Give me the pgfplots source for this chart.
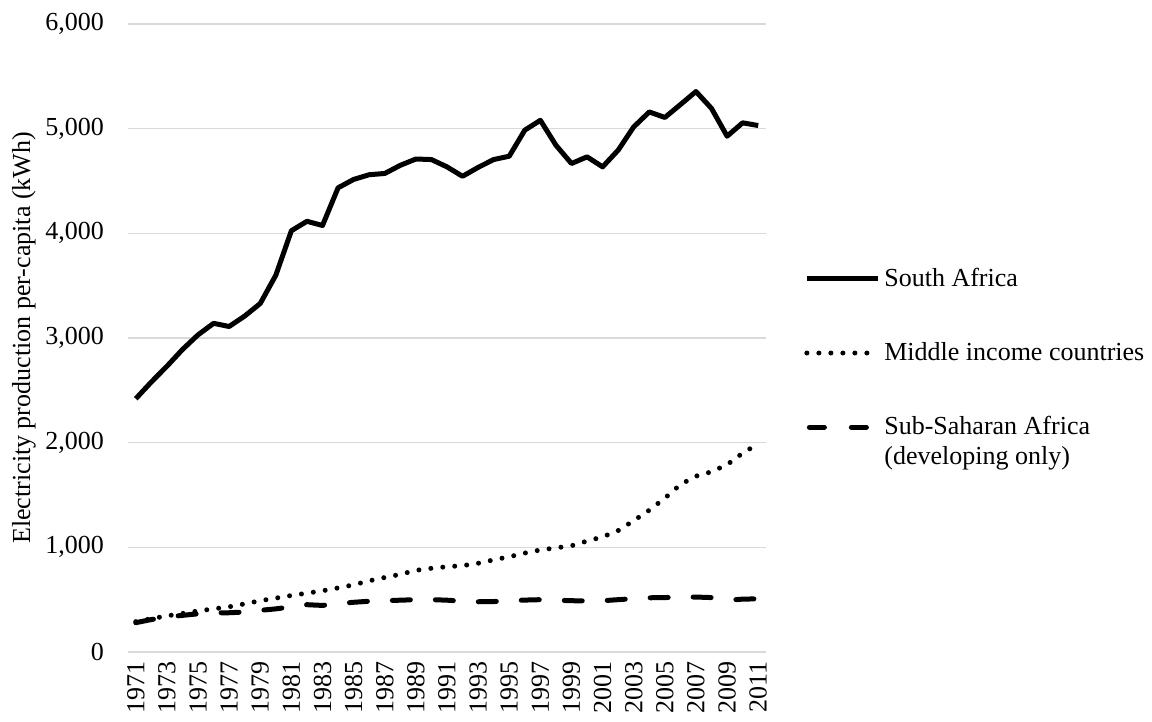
\documentclass[border=0pt]{standalone}
\usepackage{fontspec}
\setmainfont{Liberation Serif}
\usepackage{pgfplots}
\pgfplotsset{compat=1.18}

% electricity production per capita (kWh)
\pgfplotstableread{
year  sa    mic   ssa
1971  2420  290   280
1972  2580  318   310
1973  2730  345   335
1974  2890  368   350
1975  3030  392   365
1976  3140  412   375
1977  3110  432   375
1978  3210  460   382
1979  3330  490   398
1980  3600  515   412
1981  4025  540   432
1982  4115  562   452
1983  4075  585   445
1984  4435  612   462
1985  4515  642   475
1986  4560  680   485
1987  4572  712   490
1988  4650  742   495
1989  4710  780   500
1990  4705  800   500
1991  4635  815   495
1992  4545  825   485
1993  4630  848   480
1994  4705  880   482
1995  4737  910   490
1996  4986  945   496
1997  5080  975   500
1998  4842  995   495
1999  4667  1015  490
2000  4731  1060  488
2001  4635  1100  490
2002  4795  1160  500
2003  5017  1255  510
2004  5160  1355  518
2005  5107  1470  520
2006  5230  1600  525
2007  5355  1680  525
2008  5193  1722  520
2009  4928  1790  495
2010  5056  1900  505
2011  5030  1990  508
}\datatable

\pgfplotsset{
    ssaleg/.style={legend image code/.code={
        \draw[##1, dash pattern=on 7.5bp off 13.5bp] (1.25bp,7.5bp) -- (31bp,7.5bp);}},
}

\begin{document}
\fontsize{13bp}{15bp}\selectfont
\begin{tikzpicture}
\useasboundingbox (-64bp,-35bp) rectangle (512bp,326bp);
\begin{axis}[
    scale only axis,
    width=319bp, height=314bp,
    xmin=1970.5, xmax=2011.5,
    ymin=0, ymax=6000,
    xtick={1971,1973,...,2011},
    ytick={0,1000,...,6000},
    /pgf/number format/assume math mode=true,
    xticklabel style={rotate=90, anchor=east, font=\fontsize{13bp}{15bp}\selectfont,
        /pgf/number format/1000 sep={}},
    yticklabel style={font=\fontsize{13bp}{15bp}\selectfont,
        /pgf/number format/1000 sep={,}, xshift=-7.5bp},
    ymajorgrids,
    grid style={color=black!15, line width=0.75bp},
    axis line style={draw=none},
    major tick length=0pt,
    ylabel={Electricity production per-capita (kWh)},
    ylabel style={at={(rel axis cs:0,0.5)}, anchor=center, yshift=52bp,
        font=\fontsize{13bp}{15bp}\selectfont},
    legend style={at={(rel axis cs:1,0.5)}, anchor=west, xshift=16bp, yshift=-15bp,
        draw=none, fill=none, font=\fontsize{13bp}{15bp}\selectfont,
        row sep=22bp, cells={align=left}},
    legend cell align=left,
    legend image code/.code={\draw[#1] (0bp,0bp) -- (35.5bp,0bp);},
]
\addplot[black, line width=2.5bp, line join=round] table[x=year, y=sa] {\datatable};
\addlegendentry{South Africa}
\addplot[black, line width=2.5bp, line cap=round, dash pattern=on 0bp off 6bp] table[x=year, y=mic] {\datatable};
\addlegendentry{Middle income countries}
\addplot[black, line width=2.5bp, line cap=round, dash pattern=on 9bp off 12.5bp, ssaleg]
    table[x=year, y=ssa] {\datatable};
\addlegendentry{Sub-Saharan Africa\\(developing only)}
\end{axis}
\end{tikzpicture}
\end{document}
